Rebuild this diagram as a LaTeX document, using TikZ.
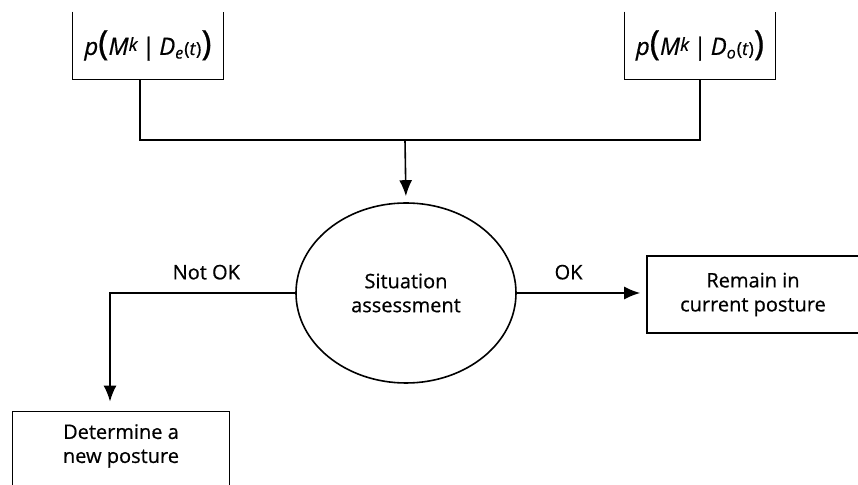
\documentclass[tikz,border=0pt]{standalone}
\usepackage{fontspec}
\setmainfont{Open Sans}[FakeBold=0.6]
\usetikzlibrary{calc,shapes.geometric,arrows.meta}

\tikzset{
    >={Latex[length=8pt,width=6.5pt]},
    postbox/.style={rectangle, draw, thick, align=center, inner sep=0pt},
    openbox/.style={rectangle, align=center, inner sep=0pt},
}

\newcommand{\probof}[1]{{\large\textit{p}{\LARGE(}\textit{M}\raisebox{2pt}{\small\textit{k}}\,|\,\textit{D}\textsubscript{\textit{#1}}{\small(\textit{t})}{\LARGE)}}}

\begin{document}
\begin{tikzpicture}[x=0.5pt, y=-0.5pt]
    % Page frame, in pixels of the original figure
    \useasboundingbox (0,0) rectangle (858,485);
    \clip (0,0) rectangle (858,485);

    % Probability boxes, open at the top
    \node[openbox, minimum width=75pt, minimum height=33.5pt] (pe) at (148,45.5) {\probof{e}};
    \node[openbox, minimum width=75pt, minimum height=33.5pt] (po) at (700,45.5) {\probof{o}};
    \draw[thick] (pe.north west) -- (pe.south west) -- (pe.south east) -- (pe.north east);
    \draw[thick] (po.north west) -- (po.south west) -- (po.south east) -- (po.north east);

    % Assessment and the two outcomes
    \node[ellipse, draw, thick, minimum width=110pt, minimum height=90pt, align=center] (sa) at (406,293) {Situation\\assessment};
    \node[postbox, minimum width=106pt, minimum height=38.5pt] (rp) at (753,294.5) {Remain in\\current posture};
    \node[openbox, minimum width=108pt, minimum height=34pt] (np) at (121,446) {Determine a\\new posture};
    \draw[thick] ($(np.south west)+(0,20)$) -- (np.north west) -- (np.north east) -- ($(np.south east)+(0,20)$);

    % Junction of the two inputs
    \coordinate (je) at ($(pe.south)+(-8,0)$);
    \coordinate (jm) at (405,140);
    \draw[thick] (je) -- (je |- jm) -- (po.south |- jm) -- (po.south);
    \draw[->, thick, shorten >=3pt] (jm) -- (sa.north);

    % Outcome arrows, label above the line
    \draw[->, thick, shorten >=3pt] (sa.east) -- (sa.east -| rp.west) node[pos=0.4, above, yshift=3pt] {OK};
    \coordinate (nk) at (110,293);
    \draw[->, thick, shorten >=5pt] (sa.west) -- (nk) node[pos=0.48, above, yshift=3pt] {Not OK} -- (nk |- np.north);
\end{tikzpicture}
\end{document}
